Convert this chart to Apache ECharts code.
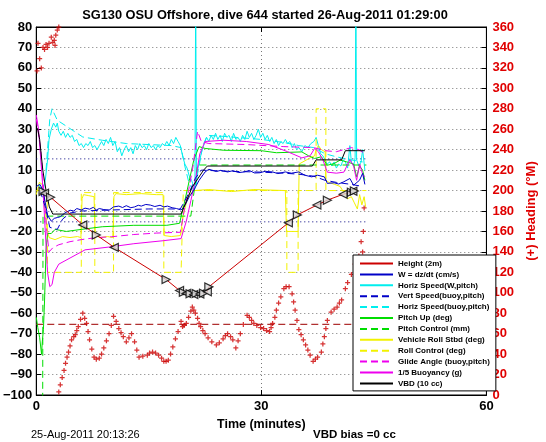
<!DOCTYPE html>
<html><head><meta charset="utf-8">
<script src="https://cdn.jsdelivr.net/npm/echarts@6/dist/echarts.min.js"></script>
<style>html,body{margin:0;padding:0;background:#fff}#c{width:546px;height:442px}</style>
</head><body><div id="c"></div>
<script>
// ---------- DATA ----------
var titleText = 'SG130 OSU Offshore, dive 644 started 26-Aug-2011 01:29:00';
var dateText = '25-Aug-2011 20:13:26';
var biasText = 'VBD bias =0 cc';
var xTicks = [0, 30, 60];
var legendNames = ['Height (2m)','W = dz/dt (cm/s)','Horiz Speed(W,pitch)','Vert Speed(buoy,pitch)','Horiz Speed(buoy,pitch)','Pitch Up (deg)','Pitch Control (mm)','Vehicle Roll Stbd (deg)','Roll Control (deg)','Glide Angle (buoy,pitch)','1/5 Buoyancy (g)','VBD (10 cc)'];

var heightT = [0.9,1.1,1.9,6.2,8.0,10.4,17.3,19.1,19.6,20.0,20.5,21.0,21.3,21.8,22.3,22.8,23.0,33.6,34.8,37.4,38.8,40.9,42.0,42.2,42.4];
var heightV = [-0.5,-1.3,-3.3,-16.8,-21.7,-27.8,-43.5,-48.9,-49.8,-50.3,-50.5,-50.8,-50.4,-50.6,-50.2,-49.5,-47.1,-15.8,-11.9,-7.1,-4.7,-1.8,-0.8,-0.3,-0.2];

var wT = [0,0.5,0.9,1.2,1.5,2.0,2.4,2.8,3.2,3.8,4.5,5.0,5.4,6.0,6.5,7.1,7.6,8.0,8.4,9.0,9.7,10.3,11.0,11.5,12.0,12.6,13.1,13.6,14.0,14.6,15.2,15.8,16.5,17.0,17.5,18.1,18.7,19.3,19.7,20.4,21.0,21.7,22.5,23.0,23.4,24.0,24.6,25.5,26.2,27.0,27.7,28.4,29.1,29.8,30.5,31.5,32.2,33.2,34.0,35.0,35.8,36.7,37.5,38.4,38.8,39.7,40.3,41.0,41.8,42.3,43.1,43.5,43.8];
var wV = [2,3,0,-6,-12,-15,-13.6,-13.2,-12.8,-11,-9.6,-10,-8.8,-9.5,-8.6,-9.1,-8.2,-9.5,-8.8,-9.3,-9.6,-8,-7.6,-8.3,-7.4,-8.4,-8,-7.2,-7.6,-6.8,-7.1,-7.8,-7.2,-8,-7.6,-8.4,-8.8,-9.5,-8,-3,0.2,5,9.1,10.4,10,9.3,9.9,9.1,9.7,8.8,9.1,9.8,8.6,8.7,9.4,9.1,8.3,9.1,8.5,9.1,7.5,6.7,7.5,6.7,3.5,3.8,3.2,4.3,5.9,2.6,5.1,8.4,3];

var vsT = [0.5,1.2,1.8,2.8,3.5,4.5,6,10,15,19.2,19.8,20.5,21.2,22,25,30,33,35,37,38.5,40,42,43.5];
var vsV = [0,-8,-18,-19,-14,-11,-10,-9.5,-9,-9,-5,0,6,10,9.5,9,8.5,8,7,5,4,3,2];

var hsT = [0.3,0.6,0.9,1.2,1.5,1.7,2.0,2.3,2.6,2.8,3.0,3.3,3.6,3.9,4.2,4.5,4.8,5.1,5.4,5.7,6.0,6.3,6.6,6.9,7.2,7.5,7.8,8.1,8.4,8.7,9.0,9.3,9.6,9.9,10.2,10.5,10.8,11.1,11.4,11.7,12.0,12.3,12.6,12.9,13.2,13.5,13.8,14.1,14.4,14.7,15.0,15.3,15.6,15.9,16.2,16.5,16.8,17.1,17.4,17.7,18.0,18.3,18.6,18.9,19.2,19.5,19.8,20.1,20.4,20.7,21.0,21.15,21.25,21.35,21.5,21.8,22.1,22.4,22.7,23.0,23.3,23.6,23.9,24.2,24.5,24.8,25.1,25.4,25.7,26.0,26.3,26.6,26.9,27.2,27.5,27.8,28.1,28.4,28.7,29.0,29.3,29.6,29.9,30.2,30.5,30.8,31.1,31.4,31.7,32.0,32.3,32.6,32.9,33.2,33.5,33.8,34.1,34.4,34.7,35.0,35.4,35.8,36.2,36.6,37.0,37.3,37.6,37.9,38.2,38.5,38.8,39.1,39.4,39.7,40.0,40.3,40.6,40.9,41.2,41.5,41.8,42.0,42.3,42.5,42.6,42.7,43.0,43.3,43.5,43.8];
var hsV = [3,1,0,5,15,25,30,33,31,33,29,27,29,26,28,26,27,24,25,22,23,21,23,22,24,21,22,20,22,24,22,25,23,26,22,24,19,21,17,20,22,19,21,18,22,20,23,21,22,20,23,21,22,20,22,21,23,22,24,22,25,23,26,24,22,17,13,11,7,5,2,1,100,3,10,15,20,23,26,24,27,25,28,25,27,24,28,26,27,24,28,25,26,24,27,25,29,26,28,25,27,30,26,28,25,27,24,26,23,25,22,24,23,25,23,24,21,23,20,21,19,22,21,23,24,26,22,18,17,15,13,14,12,14,11,13,12,15,14,11,22,14,12,16,100,15,12,14,20,10];

var hbT = [1.3,1.8,2.1,2.8,4.5,6.2,8.8,12,15,18,19.3,19.8,20.4,21,21.6,22.2,22.8,25,30,33,35,37,38.5,40,42,43.5];
var hbV = [10,35,40,34.4,30.3,26.2,24.6,23,22.5,22,21,12,3,0,10,22,27,26.5,25,23.5,22,21,18,16.5,15,14];

var pitchT = [0,0.2,0.45,0.7,0.8,0.95,1.1,1.3,1.5,2.0,2.5,4,6,8.8,13,17.4,19.1,19.8,20.4,21,21.7,22.5,25,30,32,35.4,36.3,37.1,38,38.8,39.7,40.5,41.4,42.3,42.7,43.1,43.5,43.8];
var pitchV = [-62,-67,-72,-80,-74,-68,-54,-29,-21,-21,-19,-20,-19,-17.7,-17,-17,-16,-5,5,15,21.5,20.6,19.7,19.5,18.5,18.9,17,15.7,16.5,12.4,13.2,14.9,14,13,6.7,12,10,5];

var pcT = [0,0.85,0.9,19.3,20.6,21.5,44];
var pcV = [-110,-110,-12.5,-12.5,-12.5,12.5,12.5];

var rollT = [0,0.4,0.8,1.1,1.4,1.7,2.5,3.5,4.5,5.5,5.95,6.1,6.3,7.0,7.7,7.85,8.5,9.5,10.2,10.35,10.6,12,14,16,16.9,17.05,18,19.2,19.6,20.2,21,23,26,29,33.2,33.35,34.9,35.05,36.5,37.1,37.3,37.6,38.0,38.5,38.6,39,39.8,40.5,41,41.5,42,42.4,42.8,43.1,43.4,43.7,43.9];
var rollV = [-2,4,3,-5,-18,-23,-24,-22.5,-23,-22.5,-23,-4,-2,-2.5,-3,-22,-23,-22.5,-23,-3,-1.5,-2,-1.5,-2,-2,-22,-22.5,-22,-12,-3,0,0.5,-0.5,0.5,0,-20,-20,13,16,17,20,22,20,19,5,4,3,2,-1,-4,-3,-6,-9,-2,-7,-3,-8];

var rcT = [0,1.45,1.5,6.0,6.0,7.8,7.8,10.3,10.3,17.0,17.0,19.3,19.6,33.4,33.4,34.9,34.9,37.3,37.3,38.6,38.6,44];
var rcV = [0,0,-40,-40,-1,-1,-40,-40,-1,-1,-40,-40,0,0,-40,-40,0,0,40,40,0,0];

var glideT = [0,0.6,1.0,1.4,1.7,2.2,3,4.5,6,8,10,13,16,19.2,19.7,20.3,20.9,21.5,22,23,28,33,37,38.5,40,42,43,43.8];
var glideV = [35,20,0,-20,-30,-28,-26.5,-25,-24,-23,-22.6,-21.5,-20.8,-20.4,-10,0,12,29,24,23,22.5,21.5,21,19.5,19,21,20,18];

var buoyT = [0,0.3,0.6,0.9,1.2,1.5,1.8,2.1,2.4,3.0,4.5,6.5,10,13,17,19.3,20,20.6,21.2,21.8,22.5,25,28,31,33.5,35.4,36.5,37.1,37.6,38.2,38.8,40,41,41.8,42.3,42.7,43.1,43.5,43.8];
var buoyV = [37,30,15,0,-20,-40,-47,-46,-40,-36,-33,-29,-27.5,-26,-24.5,-23.5,-15,-5,5,18,24,24.6,24,22.5,19,16,17,20.6,19,15,9,8.5,9,15,12,5,13,8,6.7];

var vbdT = [0,0.2,0.45,0.87,1.3,1.74,2.2,19.3,20.8,22.3,22.8,36.8,37.3,40.7,41.2,43.8];
var vbdV = [31,30,25,10,0,-8,-11.5,-11.5,1.8,10,12,12,15,15,19.5,19.5];

var targetT = [0, 44];
var targetUp = [15.5, 15.5];
var targetDown = [-15.3, -15.3];

var headingT = [0.1,0.23,0.45,0.67,0.9,1.1,1.3,1.5,1.7,2.0,2.2,2.4,2.5,2.6,2.8,3.0,3.0,3.2,3.45,3.7,3.9,4.1,4.3,4.5,4.7,5.0,5.2,5.4,5.6,5.9,6.2,6.45,6.7,6.9,7.1,7.4,7.7,8.0,8.4,8.7,9.0,9.35,9.7,10.0,10.3,10.65,11.0,11.3,11.6,12.0,12.35,12.7,13.1,13.4,13.7,14.2,14.8,15.1,15.5,15.9,16.3,16.7,17.0,17.3,17.6,17.9,18.2,18.55,18.9,19.3,19.5,19.7,20.0,20.3,20.6,20.8,21.0,21.2,21.5,21.7,21.9,22.2,22.5,22.9,23.4,24.0,24.4,24.9,25.2,25.5,25.9,26.2,26.6,26.9,27.2,27.6,28.1,28.4,28.7,29.0,29.4,29.9,30.3,30.7,31.1,31.3,31.5,31.8,32.0,32.3,32.6,33.0,33.3,33.7,34.1,34.3,34.5,34.75,35.0,35.3,35.6,35.9,36.2,36.5,36.9,37.2,37.5,38.0,38.2,38.4,38.6,38.8,39.3,39.7,40.1,40.4,40.7,41.2,41.5,42.0,42.5,43.0,43.3,43.5,43.6,43.7,43.8];
var headingV = [317,344,329,320,340,338,343,340,344,350,345,347,342,352,357,360,3,10,17,24,31,37,42,48,54,57,59,63,67,74,80,75,70,62,54,45,37,35,36,40,46,53,60,68,77,72,65,61,57,52,56,60,52,44,37,38,39,41,42,41,39,36,33,33,34,40,47,55,62,72,67,68,70,76,82,86,83,80,75,70,67,63,60,56,52,49,51,55,58,60,57,54,46,53,60,69,78,76,73,70,68,66,65,63,62,66,70,76,83,90,96,104,106,106,99,91,83,73,64,59,54,49,44,39,33,35,37,42,50,57,65,73,81,84,86,90,93,104,110,118,128,136,150,140,160,183];
var headingTarget = 69;

// ---------- BUILD ----------
function zip(a, b){ var o=[]; for(var i=0;i<a.length;i++) o.push([a[i], b[i]]); return o; }
var FF = '"Liberation Sans", Arial, sans-serif';
var RED = '#cc0000', BLUE = '#0000c8', CYAN = '#00eeee', GREEN = '#00dd00', YEL = '#f2f200', MAG = '#ee00ee';
var DASH = [7,4];
function line(name, t, v, color, dashed, extra){
  var s = {name:name, type:'line', data:zip(t,v), symbol:'none', showSymbol:false, animation:false,
    lineStyle:{color:color, width:1, type: dashed ? DASH : 'solid'}, itemStyle:{color:color}, z:3};
  if (extra) for (var k in extra) s[k]=extra[k];
  return s;
}
var minus = function(v){ return String(v).replace('-', '\u2212'); };

var chart = echarts.init(document.getElementById('c'), null, {renderer:'canvas'});
var option = {
  animation:false,
  backgroundColor:'#fff',
  grid:{left:31, right:48, top:27, bottom:47, show:true, borderColor:'#000', borderWidth:1},
  xAxis:[{type:'value', min:0, max:60, interval:30, position:'bottom',
      axisLine:{show:true, onZero:false, lineStyle:{color:'#000'}}, axisTick:{inside:true, length:5, lineStyle:{color:'#000'}},
      axisLabel:{color:'#000', fontFamily:FF, fontWeight:'bold', fontSize:13, margin:5},
      splitLine:{show:true, lineStyle:{color:'#777', type:[1,3]}},
      name:'Time (minutes)', nameLocation:'middle', nameGap:21,
      nameTextStyle:{color:'#000', fontFamily:FF, fontWeight:'bold', fontSize:12.5}},
    {type:'value', min:0, max:60, interval:30, position:'top',
      axisLine:{show:true, onZero:false, lineStyle:{color:'#000'}}, axisTick:{inside:true, length:5, lineStyle:{color:'#000'}},
      axisLabel:{show:false}, splitLine:{show:false}}],
  yAxis:[{type:'value', min:-100, max:80, interval:10, position:'left',
      axisLine:{show:true, onZero:false, lineStyle:{color:'#000'}}, axisTick:{inside:true, length:5, lineStyle:{color:'#000'}},
      axisLabel:{color:'#000', fontFamily:FF, fontWeight:'bold', fontSize:13, margin:4, formatter:minus},
      splitLine:{show:true, lineStyle:{color:'#777', type:[1,3]}}},
    {type:'value', min:0, max:360, interval:20, position:'right',
      axisLine:{show:true, onZero:false, lineStyle:{color:'#000'}}, axisTick:{inside:true, length:5, lineStyle:{color:'#000'}},
      axisLabel:{color:'#e00000', fontFamily:FF, fontWeight:'bold', fontSize:13, margin:6},
      splitLine:{show:false},
      name:'(+) Heading (\u00B0M)', nameLocation:'middle', nameGap:38, nameRotate:90,
      nameTextStyle:{color:'#e00000', fontFamily:FF, fontWeight:'bold', fontSize:13}}],
  legend:{orient:'vertical', left:353, top:255, padding:[4,6,3,6], itemWidth:33, itemHeight:9, itemGap:1.9,
    backgroundColor:'#fff', borderColor:'#000', borderWidth:1, selectedMode:false, z:10,
    itemStyle:{color:'rgba(0,0,0,0)', borderWidth:0, opacity:0},
    textStyle:{fontFamily:FF, fontWeight:'bold', fontSize:8, color:'#000', lineHeight:9},
    data:legendNames},
  graphic:[
    {type:'text', x:265, y:15, z:100, style:{text:titleText, align:'center', verticalAlign:'middle', textAlign:'center', textVerticalAlign:'middle', font:'bold 12.8px '+FF, fill:'#000'}},
    {type:'text', x:31, y:435, z:100, style:{text:dateText, align:'left', verticalAlign:'middle', textAlign:'left', textVerticalAlign:'middle', font:'11px '+FF, fill:'#000'}},
    {type:'text', x:313, y:435, z:100, style:{text:biasText, align:'left', verticalAlign:'middle', textAlign:'left', textVerticalAlign:'middle', font:'bold 11.5px '+FF, fill:'#000'}}
  ],
  series:[
    {name:'heading', type:'scatter', yAxisIndex:1, data:zip(headingT, headingV), symbol:'path://M-1,-4H1V-1H4V1H1V4H-1V1H-4V-1H-1Z', symbolSize:5, itemStyle:{color:RED}, z:2, silent:true},
    {name:'headingTarget', type:'line', yAxisIndex:1, data:[[0,headingTarget],[60,headingTarget]], symbol:'none', lineStyle:{color:'#b03030', width:1.3, type:DASH}, z:2, silent:true},
    line('targetUp', targetT, targetUp, '#00008b', false, {lineStyle:{color:'#000080', width:1, type:[1,3]}}),
    line('targetDown', targetT, targetDown, '#00008b', false, {lineStyle:{color:'#000080', width:1, type:[1,3]}}),
    line(legendNames[4], hbT, hbV, CYAN, true),
    line(legendNames[2], hsT, hsV, CYAN, false),
    line(legendNames[8], rcT, rcV, YEL, true),
    line(legendNames[7], rollT, rollV, YEL, false),
    line(legendNames[6], pcT, pcV, GREEN, true),
    line(legendNames[5], pitchT, pitchV, GREEN, false),
    line(legendNames[9], glideT, glideV, MAG, true),
    line(legendNames[10], buoyT, buoyV, MAG, false),
    line(legendNames[3], vsT, vsV, BLUE, true),
    line(legendNames[1], wT, wV, BLUE, false),
    line(legendNames[11], vbdT, vbdV, '#000', false),
    line(legendNames[0], heightT, heightV, RED, false),
    {name:'heightMarkers', type:'scatter', data:zip(heightT, heightV), symbol:'triangle', symbolSize:8,
      symbolRotate:function(v, p){ return (p.dataIndex % 2) ? 90 : -90; },
      itemStyle:{color:'#d8d8d8', borderColor:'#000', borderWidth:1.2}, z:5, silent:true}
  ]
};
chart.setOption(option);
</script></body></html>
